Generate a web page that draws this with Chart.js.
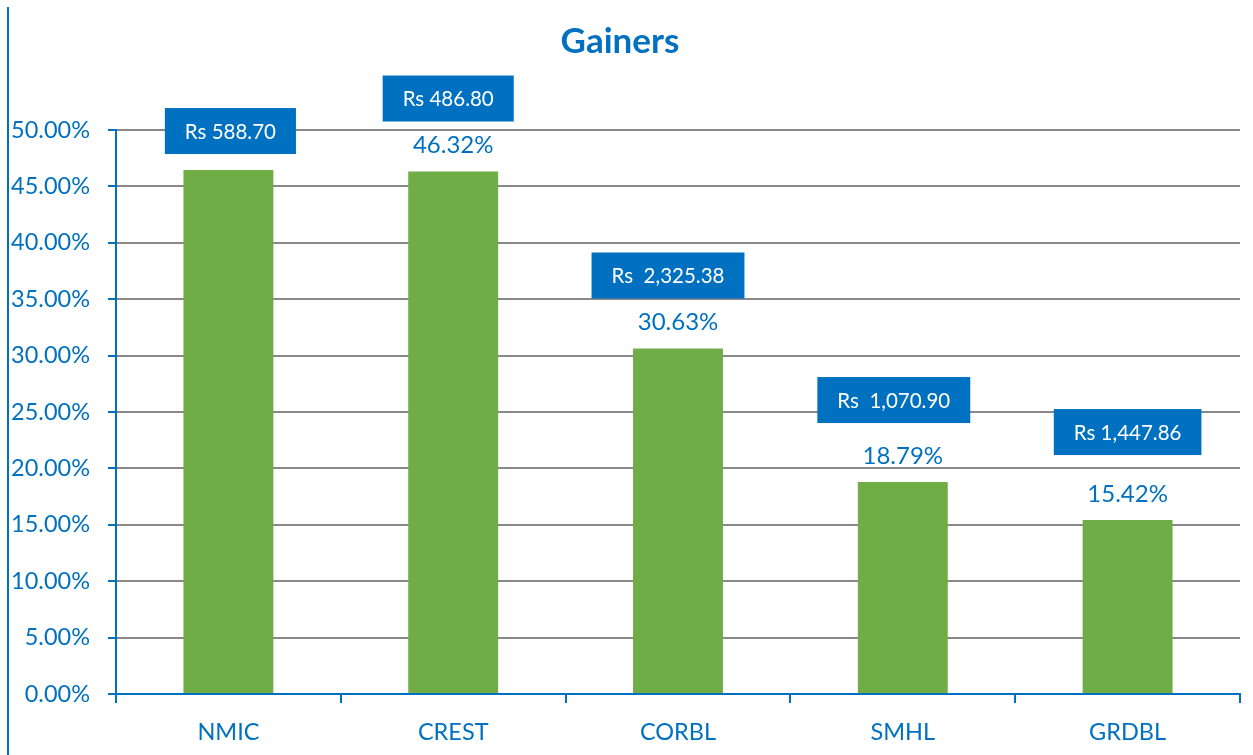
<!DOCTYPE html>
<html>
<head>
<meta charset="utf-8">
<title>Gainers</title>
<script src="https://cdn.jsdelivr.net/npm/chart.js@4.4.1/dist/chart.umd.min.js"></script>
<style>
  body { margin: 0; background: #fff; }
  #wrap { width: 1253px; height: 755px; }
</style>
</head>
<body>
<div id="wrap"><canvas id="gainers" width="1253" height="755"></canvas></div>
<script>
const categories = ["NMIC", "CREST", "CORBL", "SMHL", "GRDBL"];
const gainPct = [46.45, 46.32, 30.63, 18.79, 15.42];
const priceLabels = ["Rs 588.70", "Rs 486.80", "Rs  2,325.38", "Rs  1,070.90", "Rs 1,447.86"];
const yMin = 0, yMax = 50, yStep = 5;

const BLUE = "#0070C0";
const GREEN = "#70AD47";
const GRID = "#898989";
const FONT = "Lato, 'Open Sans', sans-serif";

// boxes were placed by hand in the original, so nudge each one
const boxNudge = [
  { dx: 2, gap: 16 },
  { dx: -5, gap: 50 },
  { dx: -10, gap: 50 },
  { dx: -9, gap: 59 },
  { dx: 0, gap: 65 }
];

const frame = {
  id: "frame",
  beforeDraw(chart) {
    const ctx = chart.ctx;
    ctx.save();
    ctx.fillStyle = "#fff";
    ctx.fillRect(0, 0, chart.width, chart.height);
    ctx.strokeStyle = BLUE;
    ctx.lineWidth = 2;
    ctx.beginPath();
    ctx.moveTo(8, 7);
    ctx.lineTo(8, chart.height);
    ctx.stroke();
    ctx.restore();
  }
};

const labels = {
  id: "labels",
  afterDatasetsDraw(chart) {
    const ctx = chart.ctx;
    const meta = chart.getDatasetMeta(0);
    ctx.save();
    ctx.textAlign = "center";
    ctx.textBaseline = "middle";
    meta.data.forEach((bar, i) => {
      ctx.font = "24px " + FONT;
      ctx.fillStyle = BLUE;
      ctx.fillText(gainPct[i].toFixed(2) + "%", bar.x, bar.y - 26);
    });
    meta.data.forEach((bar, i) => {
      ctx.font = "20.5px " + FONT;
      const w = ctx.measureText(priceLabels[i]).width + 40;
      const h = 46;
      const cx = bar.x + boxNudge[i].dx;
      const bottom = bar.y - boxNudge[i].gap;
      ctx.fillStyle = BLUE;
      ctx.fillRect(cx - w / 2, bottom - h, w, h);
      ctx.fillStyle = "#fff";
      ctx.fillText(priceLabels[i], cx, bottom - h / 2 + 1);
    });
    ctx.restore();
  }
};

new Chart("gainers", {
  type: "bar",
  data: {
    labels: categories,
    datasets: [{
      data: gainPct,
      backgroundColor: GREEN,
      barPercentage: 0.4,
      categoryPercentage: 1.0
    }]
  },
  options: {
    responsive: false,
    animation: false,
    layout: { padding: { left: 0, right: 13, top: 0, bottom: 0 } },
    plugins: {
      legend: { display: false },
      tooltip: { enabled: false },
      title: {
        display: true,
        text: "Gainers",
        color: BLUE,
        font: { family: FONT, size: 35, weight: "bold" },
        padding: { top: 21, bottom: 67 }
      }
    },
    scales: {
      x: {
        grid: {
          offset: true,
          drawOnChartArea: false,
          color: BLUE,
          lineWidth: 2,
          tickLength: 9
        },
        border: { color: BLUE, width: 2 },
        ticks: { color: BLUE, font: { family: FONT, size: 23.5 }, padding: 15 },
        afterFit(scale) { scale.height = 61; }
      },
      y: {
        min: yMin,
        max: yMax,
        grid: {
          color: GRID,
          lineWidth: 2,
          tickColor: BLUE,
          tickLength: 8
        },
        border: { color: BLUE, width: 2 },
        ticks: {
          stepSize: yStep,
          color: BLUE,
          font: { family: FONT, size: 23.5 },
          padding: 18,
          callback: v => v.toFixed(2) + "%"
        },
        afterFit(scale) { scale.width = 116; }
      }
    }
  },
  plugins: [frame, labels]
});
</script>
</body>
</html>
